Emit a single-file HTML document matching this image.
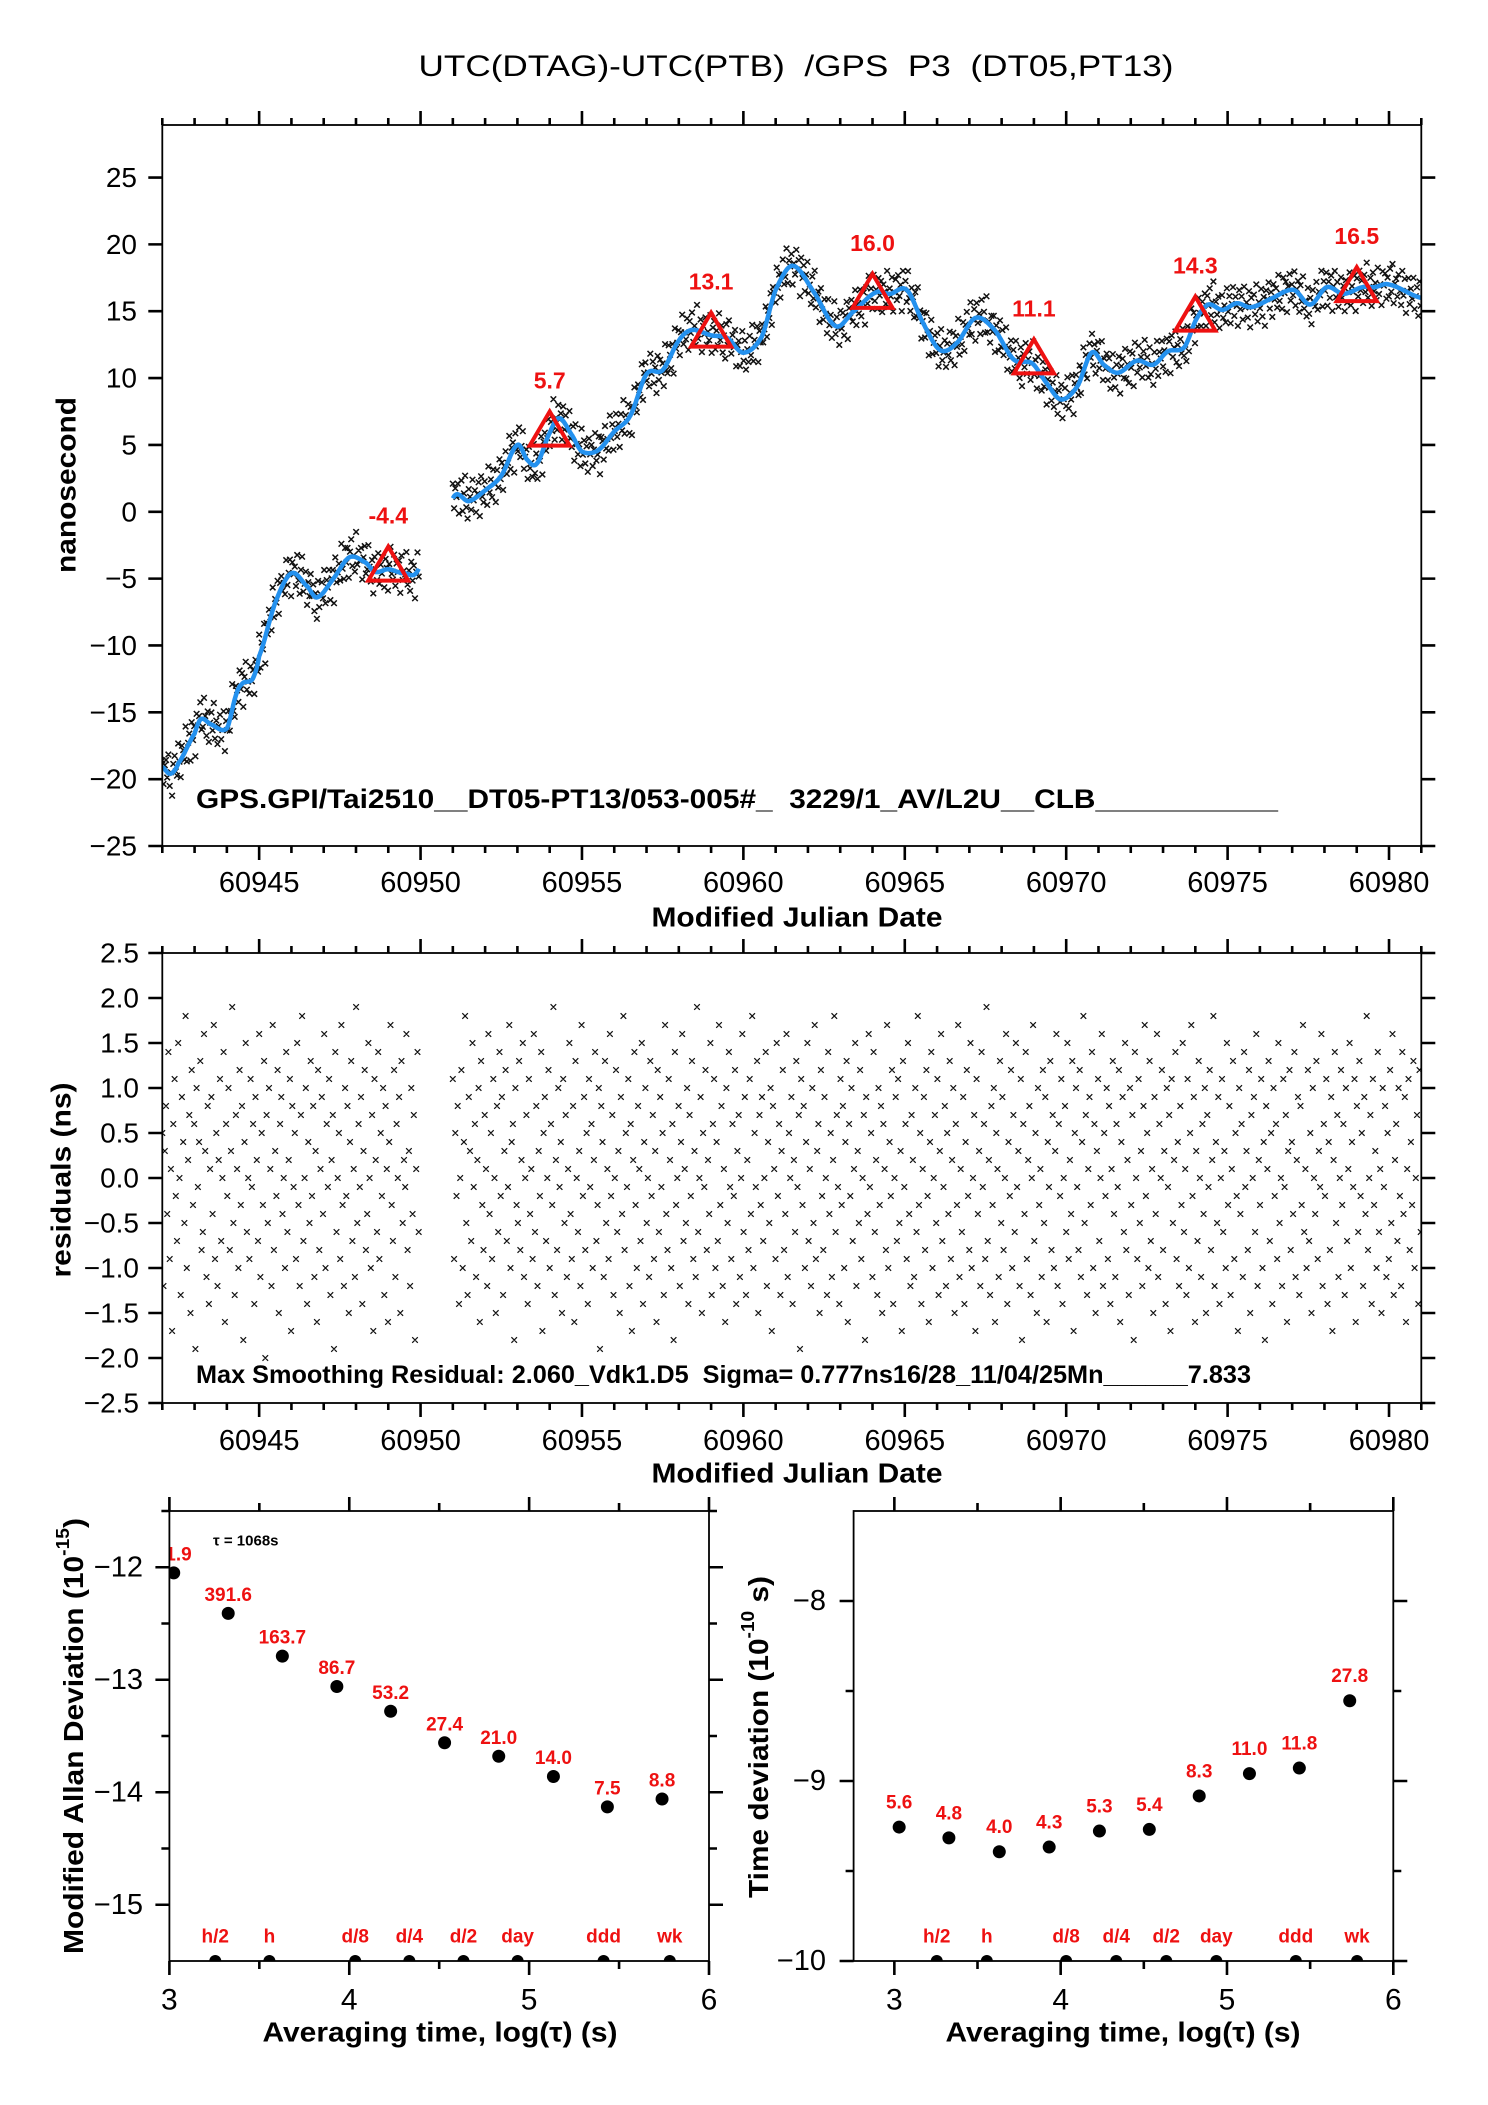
<!DOCTYPE html>
<html><head><meta charset="utf-8"><title>UTC(DTAG)-UTC(PTB) GPS P3</title>
<style>
html,body{margin:0;padding:0;background:#fff;}
svg{display:block;font-family:"Liberation Sans",Arial,sans-serif;}
text{white-space:pre;}
</style></head>
<body>
<svg id="chart" xmlns="http://www.w3.org/2000/svg" width="1488" height="2105" viewBox="0 0 1488 2105">
<rect x="0" y="0" width="1488" height="2105" fill="#fff"/>
<text x="796" y="76" text-anchor="middle" font-size="30" textLength="755" lengthAdjust="spacingAndGlyphs" xml:space="preserve">UTC(DTAG)-UTC(PTB)  /GPS  P3  (DT05,PT13)</text>
<g id="g-top"></g>
<g id="g-mid"></g>
<g id="g-bl"></g>
<g id="g-br"></g>
</svg>
<script>
// ---------- DATA ----------
const seg1Range = [60942.0, 60949.95];
const seg2Range = [60951.0, 60981.0];
const sampleStep = 0.038;
const curveDays = [60942.0,60942.25,60942.5,60943.0,60943.2,60943.5,60944.0,60944.3,60944.5,60944.8,60945.0,60945.5,60946.0,60946.5,60946.8,60947.3,60947.8,60948.3,60948.6,60949.0,60949.5,60949.95,
60951.0,60951.5,60952.0,60952.5,60953.0,60953.3,60953.6,60954.0,60954.3,60954.7,60955.0,60955.5,60956.0,60956.5,60957.0,60957.5,60958.0,60958.4,60959.0,60959.5,60960.0,60960.57,60961.0,60961.53,60962.19,60962.85,60963.37,60964.1,60964.54,60965.06,60965.57,60966.09,60966.6,60967.19,60967.78,60968.37,60968.95,60969.4,60969.84,60970.35,60970.79,60971.16,60971.6,60972.19,60972.7,60973.15,60973.66,60974.03,60974.4,60974.84,60975.28,60975.72,60976.31,60977.04,60977.56,60978.07,60978.59,60979.18,60979.55,60979.99,60981.0];
const curveVals = [-19.1,-19.6,-18.8,-16.6,-15.5,-15.9,-16.2,-13.6,-12.8,-12.5,-10.8,-6.8,-4.6,-5.6,-6.4,-5.0,-3.4,-3.8,-4.5,-4.3,-4.6,-4.2,
1.0,0.8,1.6,2.7,5.0,3.9,3.6,5.9,7.0,5.7,4.5,4.6,6.0,7.2,10.3,10.6,12.8,13.6,13.2,13.0,11.9,13.1,16.6,18.4,16.4,13.9,14.9,16.4,16.3,16.6,14.1,12.1,12.6,14.5,13.6,11.4,11.1,9.6,8.4,9.4,11.9,11.0,10.4,11.3,11.0,12.0,12.3,14.4,15.5,15.1,15.6,15.3,15.9,16.6,15.5,16.8,16.3,16.8,16.8,17.0,16.0];
const triDays = [60949,60954,60959,60964,60969,60974,60979];
const triVals = [-4.4,5.7,13.1,16.0,11.1,14.3,16.5];
const triLabels = ["-4.4","5.7","13.1","16.0","11.1","14.3","16.5"];
// residuals in tenths of ns
const residuals = [
5,-12,3,8,-4,14,-9,1,-17,6,11,-2,-7,15,0,-13,9,4,-5,18,-10,2,7,-15,12,
-3,6,-19,10,-1,4,13,-8,-6,16,3,-11,8,-14,1,9,-4,17,-9,5,-12,2,11,-7,0,
14,-16,6,-2,10,-8,3,19,-5,-13,7,1,-10,12,-3,8,-18,4,15,-6,0,-9,11,-1,6,
-14,9,2,-7,16,-11,5,-3,13,-20,7,-5,10,1,-12,17,-8,3,-2,12,-15,6,9,-4,0,
-10,14,-6,2,11,-17,8,-1,5,-9,15,-3,-12,7,18,-7,0,10,-14,4,-5,13,-2,8,-11,
3,-16,12,-8,1,9,-4,16,-10,6,-1,11,-13,2,7,-19,14,-6,0,5,-9,17,-3,-12,10,
-2,8,-15,4,13,-7,1,-11,19,-5,6,-1,9,-14,3,12,-8,-4,15,0,-10,7,-17,11,2,
-6,14,-9,5,-2,10,-13,8,1,-16,4,17,-3,-7,12,-11,6,0,9,-15,13,-5,2,-1,16,
-8,3,-12,10,-4,7,-18,1,14,-6,11,-9,5,-2,8,-14,0,12,-10,4,18,-5,-13,9,3,
-7,15,-1,6,-11,2,10,-16,13,-3,-8,7,1,-12,16,-4,5,-9,11,0,-15,8,-6,14,-2,
9,-13,3,12,-7,-1,17,-10,4,6,-18,10,-3,-5,13,-8,2,15,-11,0,7,-14,11,-4,1,
-9,16,-6,8,-12,3,-2,14,-17,5,9,-7,0,12,-10,6,-3,19,-13,2,-8,10,-1,4,-15,
11,-5,7,-11,1,15,-4,-9,8,-16,13,0,-6,3,-12,17,-2,9,-8,5,-14,11,-1,6,-10,
2,14,-7,-3,10,-19,8,4,-11,13,-5,1,-9,16,-2,7,-13,0,12,-6,3,-15,9,-4,18,
-8,5,-1,11,-12,6,-17,2,14,-3,-10,8,1,-7,15,-14,4,10,-5,0,-11,13,-2,7,-9,
3,-16,12,-6,9,-1,5,-13,17,-4,-8,11,2,-10,6,-18,14,-3,0,8,-12,4,16,-7,1,
-5,10,-14,7,-2,13,-9,3,-11,19,-6,0,9,-15,5,-1,12,-8,2,-4,15,-13,6,11,-10,
4,-7,17,-3,8,-12,1,-16,10,-5,14,-1,-9,6,-2,12,-14,3,7,-11,0,16,-6,9,-13,
2,-8,11,-4,18,-10,5,-1,13,-15,7,-3,9,-7,0,14,-12,4,-5,10,-17,8,1,-9,15,
-2,6,-13,3,12,-8,-4,16,-11,5,0,9,-14,2,-6,13,-1,7,-19,11,-3,8,-10,4,15,
-7,1,-12,10,-5,17,-9,3,6,-15,12,-2,-8,9,0,-13,14,-4,5,-11,2,18,-6,7,-1,
-14,11,-3,8,-10,4,13,-16,6,-2,10,-7,1,15,-12,3,-5,12,-9,0,7,-18,9,-4,16,
-1,5,-11,14,-6,2,-13,10,-3,8,-15,6,1,-8,17,-10,4,-2,12,-14,0,9,-7,11,-5,
3,-17,13,-1,6,-9,15,-4,-12,7,2,-11,10,-6,18,-3,5,-14,1,9,-8,12,-2,-16,4,
14,-10,0,7,-5,11,-13,3,16,-7,-1,8,-12,5,-4,13,-9,2,10,-15,6,-3,17,-11,1,
-6,9,-14,4,12,-2,-8,15,-10,0,7,-17,11,-4,3,-12,14,-1,6,-9,19,-7,2,-13,8,
-3,10,-16,5,1,-11,13,-5,9,-8,0,16,-14,4,-2,12,-10,7,-6,15,-1,3,-12,11,-18,
6,-4,14,-9,2,8,-13,0,17,-7,5,-15,10,-3,1,-11,12,-5,9,-16,4,-1,13,-8,7,
-10,3,16,-12,6,-2,11,-14,0,8,-6,15,-9,2,-4,13,-17,5,10,-1,-8,12,-11,4,18,
-5,7,-13,1,9,-3,14,-10,6,-15,3,11,-7,0,16,-12,5,-2,10,-9,8,-14,1,13,-4,
-11,6,-1,12,-16,4,9,-6,15,-8,2,-13,10,-3,7,-18,14,0,-9,11,-5,3,-12,8,17,
-2,5,-10,13,-7,1,-15,9,-4,16,-11,6,0,12,-8,3,-14,10,-1,7,-17,11,-5,2,14,
-9,4,-12,8,-3,15,-6,1,-13,11,-10,5,17,-2,9,-16,3,-7,13,0,-11,6,-4,10,-15,
7,-1,12,-8,2,18,-12,4,-5,9,-14,0,11,-6,3,-10,15,-3,8,-13,1,13,-9,5,-2,
-17,10,-4,6,-11,14,-1,3,-8,12,-15,7,0,9,-6,16,-12,2,-3,11,-10,4,-18,8,1,
13,-7,5,-14,10,-2,6,-9,15,-5,0,-12,11,-1,7,-16,3,12,-8,4,-4,14,-11,2,9,
-13,8,-3,17,-6,1,-10,12,-7,5,-15,10,0,-4,13,-9,3,-1,16,-12,6,-2,11,-14,4,
-8,9,-17,2,14,-5,7,-11,0,12,-3,6,-13,10,-7,1,15,-10,4,-1,11,-16,8,-6,13,
-2,5,-12,9,-4,18,-8,0,7,-14,11,-3,3,-10,14,-6,1,-15,10,-1,8,-11,5,-9,12,
-5,16,-13,2,6,-7,10,-2,-12,14,-4,9,-16,1,11,-8,4,-3,13,-10,0,7,-14,12,-6
];
// Allan panel data
const madX = [3.024,3.327,3.628,3.931,4.230,4.530,4.831,5.135,5.435,5.739];
const madY = [-12.05,-12.41,-12.79,-13.06,-13.28,-13.56,-13.68,-13.86,-14.13,-14.06];
const madLabels = ["11.9","391.6","163.7","86.7","53.2","27.4","21.0","14.0","7.5","8.8"];
const tdevX = [3.029,3.328,3.631,3.931,4.233,4.533,4.833,5.135,5.435,5.738];
const tdevY = [-9.256,-9.316,-9.393,-9.367,-9.278,-9.269,-9.083,-8.959,-8.928,-8.554];
const tdevLabels = ["5.6","4.8","4.0","4.3","5.3","5.4","8.3","11.0","11.8","27.8"];
const periodNames = ["h/2","h","d/8","d/4","d/2","day","ddd","wk"];
const periodLogs = [3.255,3.556,4.033,4.334,4.635,4.936,5.414,5.782];
const topYTicks = [-25,-20,-15,-10,-5,0,5,10,15,20,25];
const midYTicks = [-2.5,-2.0,-1.5,-1.0,-0.5,0.0,0.5,1.0,1.5,2.0,2.5];
const mjdTicks = [60945,60950,60955,60960,60965,60970,60975,60980];

// ---------- HELPERS ----------
const NS = "http://www.w3.org/2000/svg";
function mk(tag, parent, attrs) {
  const e = document.createElementNS(NS, tag);
  for (const k in attrs) e.setAttribute(k, attrs[k]);
  parent.appendChild(e);
  return e;
}
function fmtMinus(s){ return String(s).replace(/^-/, "\u2212"); }
function lin(d0,d1,r0,r1){ return v => r0 + (v-d0)*(r1-r0)/(d1-d0); }

function curveAt(t){
  let i = 0;
  while (i < curveDays.length-2 && curveDays[i+1] < t) i++;
  const p0 = curveVals[Math.max(i-1,0)], p1 = curveVals[i], p2 = curveVals[i+1], p3 = curveVals[Math.min(i+2,curveVals.length-1)];
  const u = Math.max(0, Math.min(1, (t-curveDays[i])/(curveDays[i+1]-curveDays[i])));
  return 0.5*((2*p1)+(-p0+p2)*u+(2*p0-5*p1+4*p2-p3)*u*u+(-p0+3*p1-3*p2+p3)*u*u*u);
}
function sampleTimes(){
  const ts = [];
  for (const r of [seg1Range, seg2Range]) for (let t=r[0]; t<=r[1]+1e-9; t+=sampleStep) ts.push(t);
  return ts;
}

function frame(g, L, R, T, B, xTicksMajor, xTicksMinor, X, yTicksMajor, yTicksMinor, Y, majLen, minLen) {
  const ax = mk("g", g, {stroke:"#000","stroke-width":"2",fill:"none"});
  
  
  mk("rect", ax, {x:L,y:T,width:R-L,height:B-T,"stroke-width":"1.8"});
  let d = "";
  xTicksMajor.forEach(v=>{const x=X(v); d+=`M${x},${T}V${T-majLen}M${x},${B}V${B+majLen}`;});
  xTicksMinor.forEach(v=>{const x=X(v); d+=`M${x},${T}V${T-minLen}M${x},${B}V${B+minLen}`;});
  yTicksMajor.forEach(v=>{const y=Y(v); d+=`M${L},${y}H${L-majLen}M${R},${y}H${R+majLen}`;});
  yTicksMinor.forEach(v=>{const y=Y(v); d+=`M${L},${y}H${L-minLen}M${R},${y}H${R+minLen}`;});
  const p = mk("path", ax, {d:d,"stroke-width":"2.6"});
  
  
}
function text(g, x, y, s, attrs, name) {
  const t = mk("text", g, Object.assign({x:x,y:y,"dominant-baseline":"central"}, attrs||{}));
  t.textContent = s;
  
  
  return t;
}
function crossPath(pts, h){
  let d = "";
  pts.forEach(p=>{ d += `M${(p[0]-h).toFixed(1)},${(p[1]-h).toFixed(1)}l${2*h},${2*h}M${(p[0]-h).toFixed(1)},${(p[1]+h).toFixed(1)}l${2*h},${-2*h}`; });
  return d;
}

const dayMinor = []; for (let d=60942; d<=60981; d++) if (d%5!==0) dayMinor.push(d);

// ---------- TOP PANEL ----------
(function(){
  const g = document.getElementById("g-top");
  const L=162.3,R=1421.3,T=125,B=846;
  const X = lin(60942.0,60981.0,L,R), Y = lin(-25,28.93,B,T);
  const clip = mk("clipPath", g, {id:"clipTop"}); mk("rect", clip, {x:L,y:T,width:R-L,height:B-T});
  const ts = sampleTimes();
  const pts = [];
  for (let i=0;i<ts.length && i<residuals.length;i++) pts.push([X(ts[i]), Y(curveAt(ts[i]) + residuals[i]/10)]);
  const sc = mk("path", g, {d:crossPath(pts,2.8),stroke:"#111","stroke-width":"1.5",fill:"none","clip-path":"url(#clipTop)"});
  
  
  for (const r of [seg1Range, seg2Range]) {
    let d = "";
    for (let t=r[0]; t<=r[1]+1e-9; t+=0.02) d += (d?"L":"M") + X(t).toFixed(1) + "," + Y(curveAt(t)).toFixed(1);
    const ln = mk("path", g, {d:d,stroke:"#2491ee","stroke-width":"4.5",fill:"none","stroke-linejoin":"round","clip-path":"url(#clipTop)"});
    
    
  }
  triDays.forEach((d,i)=>{
    const x=X(d), y=Y(triVals[i]);
    const tr = mk("path", g, {d:`M${x},${y-24}L${x+20},${y+10}L${x-20},${y+10}Z`,stroke:"#ee1111","stroke-width":"4",fill:"none"});
    
    
    text(g, x, y-55, triLabels[i], {"text-anchor":"middle","font-size":"23","font-weight":"bold",fill:"#ee1111"}, "daily-value-label");
  });
  frame(g,L,R,T,B,mjdTicks,dayMinor,X,topYTicks,[],Y,14,7);
  topYTicks.forEach(v=>text(g,137,Y(v),fmtMinus(v),{"text-anchor":"end","font-size":"28"},"y-tick-label"));
  mjdTicks.forEach(v=>text(g,X(v),883,String(v),{"text-anchor":"middle","font-size":"29"},"x-tick-label"));
  text(g,797,917,"Modified Julian Date",{"text-anchor":"middle","font-size":"28","font-weight":"bold",textLength:"291",lengthAdjust:"spacingAndGlyphs"},"x-axis-title");
  text(g,0,0,"nanosecond",{"text-anchor":"middle","font-size":"28","font-weight":"bold",transform:"translate(66,485) rotate(-90)",textLength:"176",lengthAdjust:"spacingAndGlyphs"},"y-axis-title");
  text(g,196,799,"GPS.GPI/Tai2510__DT05-PT13/053-005#_  3229/1_AV/L2U__CLB___________",{"font-size":"27","font-weight":"bold",textLength:"1082",lengthAdjust:"spacingAndGlyphs"},"data-source-caption");
})();

// ---------- MIDDLE PANEL ----------
(function(){
  const g = document.getElementById("g-mid");
  const L=162.3,R=1421.3,T=953,B=1403;
  const X = lin(60942.0,60981.0,L,R), Y = lin(-2.5,2.5,B,T);
  const clip = mk("clipPath", g, {id:"clipMid"}); mk("rect", clip, {x:L,y:T,width:R-L,height:B-T});
  const ts = sampleTimes();
  const pts = [];
  for (let i=0;i<ts.length && i<residuals.length;i++) pts.push([X(ts[i]), Y(residuals[i]/10)]);
  const sc = mk("path", g, {d:crossPath(pts,2.8),stroke:"#111","stroke-width":"1.2",fill:"none","clip-path":"url(#clipMid)"});
  
  
  frame(g,L,R,T,B,mjdTicks,dayMinor,X,midYTicks,[],Y,14,7);
  midYTicks.forEach(v=>text(g,139,Y(v),fmtMinus(v.toFixed(1)),{"text-anchor":"end","font-size":"28"},"y-tick-label"));
  mjdTicks.forEach(v=>text(g,X(v),1441,String(v),{"text-anchor":"middle","font-size":"29"},"x-tick-label"));
  text(g,797,1473,"Modified Julian Date",{"text-anchor":"middle","font-size":"28","font-weight":"bold",textLength:"291",lengthAdjust:"spacingAndGlyphs"},"x-axis-title");
  text(g,0,0,"residuals (ns)",{"text-anchor":"middle","font-size":"28","font-weight":"bold",transform:"translate(61,1180) rotate(-90)",textLength:"195",lengthAdjust:"spacingAndGlyphs"},"y-axis-title");
  text(g,196,1375,"Max Smoothing Residual: 2.060_Vdk1.D5  Sigma= 0.777ns16/28_11/04/25Mn______7.833",{"font-size":"25","font-weight":"bold",textLength:"1055",lengthAdjust:"spacingAndGlyphs"},"residual-stats-caption");
})();

// ---------- STABILITY PANELS ----------
function stabPanel(id, L, R, T, B, x0, x1, y0, y1, yMaj, yMin, xs, ys, labels, labOff, yLabX, clipId, titleX, ylab, ylabX, ylabLen, sup, ylabEnd, xTitleX) {
  const g = document.getElementById(id);
  const X = lin(x0,x1,L,R), Y = lin(y0,y1,B,T);
  const clip = mk("clipPath", g, {id:clipId}); mk("rect", clip, {x:L,y:T,width:R-L,height:B-T});
  const pg = mk("g", g, {"clip-path":`url(#${clipId})`});
  xs.forEach((v,i)=>{
    const c = mk("circle", pg, {cx:X(v),cy:Y(ys[i]),r:"6.5",fill:"#000"});
    
    
    text(pg, X(v), Y(ys[i])-labOff, labels[i], {"text-anchor":"middle","font-size":"19","font-weight":"bold",fill:"#ee1111"}, "stability-value-label");
  });
  periodLogs.forEach((v,i)=>{
    const c = mk("circle", pg, {cx:X(v),cy:B,r:"6",fill:"#000"});
    
    
    text(pg, X(v), B-24, periodNames[i], {"text-anchor":"middle","font-size":"19","font-weight":"bold",fill:"#ee1111"}, "period-label");
  });
  frame(g,L,R,T,B,[3,4,5,6],[3.5,4.5,5.5],X,yMaj,yMin,Y,14,8);
  yMaj.forEach(v=>text(g,yLabX,Y(v),fmtMinus(v),{"text-anchor":"end","font-size":"29"},"y-tick-label"));
  [3,4,5,6].forEach(v=>text(g,X(v),2000,String(v),{"text-anchor":"middle","font-size":"30"},"x-tick-label"));
  text(g,xTitleX,2032,"Averaging time, log(\u03c4) (s)",{"text-anchor":"middle","font-size":"28","font-weight":"bold",textLength:"355",lengthAdjust:"spacingAndGlyphs"},"x-axis-title");
  const yt = text(g,0,0,"",{"text-anchor":"middle","font-size":"28","font-weight":"bold",transform:`translate(${ylabX},${(ylabEnd)}) rotate(-90)`,textLength:String(ylabLen),lengthAdjust:"spacingAndGlyphs"},"y-axis-title");
  const t1 = mk("tspan", yt, {}); t1.textContent = ylab + " (10";
  const t2 = mk("tspan", yt, {dy:"-10","font-size":"18"}); t2.textContent = sup;
  const t3 = mk("tspan", yt, {dy:"10"}); t3.textContent = sup==="-10" ? " s)" : ")";
  return {g,X,Y};
}
(function(){
  const r = stabPanel("g-bl",169.4,709,1511,1961,3,6,-15.5,-11.5,[-12,-13,-14,-15],[-11.5,-12.5,-13.5,-14.5],madX,madY,madLabels,18,143,"clipBL",0,"Modified Allan Deviation",73,436,"-15",1736,440);
  text(r.g,213,1541,"\u03c4 = 1068s",{"font-size":"15","font-weight":"bold"},"tau-annotation");
  const r2 = stabPanel("g-br",853.6,1393.3,1511,1961,2.755,6,-10,-7.5,[-8,-9,-10],[-8.5,-9.5],tdevX,tdevY,tdevLabels,24,826,"clipBR",0,"Time deviation",758,322,"-10",1737,1123);
})();
</script>
</body></html>
